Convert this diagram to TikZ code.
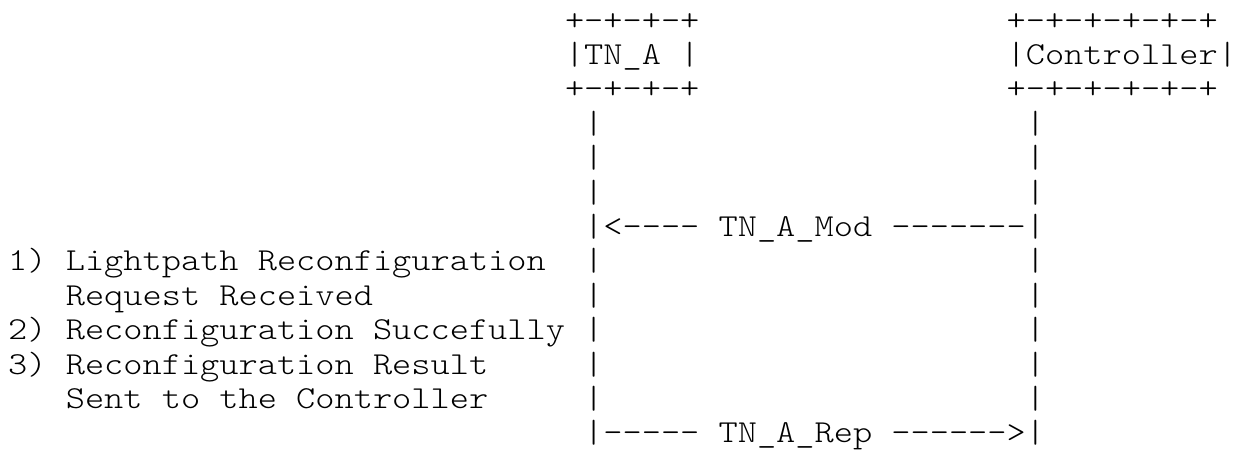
\documentclass[tikz,border=0pt]{standalone}
\usepackage{fontspec}
\setmonofont{lmmonolt10-regular.otf}[FakeStretch=1.1429]
\begin{document}
\begin{tikzpicture}[x=19.2pt, y=-34.4pt,
    ascii/.style={font=\ttfamily\fontsize{32}{34}\selectfont, inner sep=0pt, anchor=base west}]
                \useasboundingbox (-8pt,30pt) rectangle (1227pt,-420pt);
                % boxes
                \node [ascii] (tnaTop) at (29,0) {+-+-+-+};
                \node [ascii] (tna) at (29,1) {|TN\_A |};
                \node [ascii] (tnaBot) at (29,2) {+-+-+-+};
                \node [ascii] (ctrlTop) at (52,0) {+-+-+-+-+-+};
                \node [ascii] (ctrl) at (52,1) {|Controller|};
                \node [ascii] (ctrlBot) at (52,2) {+-+-+-+-+-+};

                % lifelines
                \node [ascii] (la3) at (30,3) {|};
                \node [ascii] (la4) at (30,4) {|};
                \node [ascii] (la5) at (30,5) {|};
                \node [ascii] (la7) at (30,7) {|};
                \node [ascii] (la8) at (30,8) {|};
                \node [ascii] (la9) at (30,9) {|};
                \node [ascii] (la10) at (30,10) {|};
                \node [ascii] (la11) at (30,11) {|};

                \node [ascii] (lc3) at (53,3) {|};
                \node [ascii] (lc4) at (53,4) {|};
                \node [ascii] (lc5) at (53,5) {|};
                \node [ascii] (lc7) at (53,7) {|};
                \node [ascii] (lc8) at (53,8) {|};
                \node [ascii] (lc9) at (53,9) {|};
                \node [ascii] (lc10) at (53,10) {|};
                \node [ascii] (lc11) at (53,11) {|};

                % messages
                \node [ascii] (mod) at (30,6) {|<---- TN\_A\_Mod -------|};
                \node [ascii] (rep) at (30,12) {|----- TN\_A\_Rep ------>|};

                % steps
                \node [ascii] (step1) at (0,7) {1) Lightpath Reconfiguration};
                \node [ascii] (step1b) at (3,8) {Request Received};
                \node [ascii] (step2) at (0,9) {2) Reconfiguration Succefully};
                \node [ascii] (step3) at (0,10) {3) Reconfiguration Result};
                \node [ascii] (step3b) at (3,11) {Sent to the Controller};
\end{tikzpicture}
\end{document}
